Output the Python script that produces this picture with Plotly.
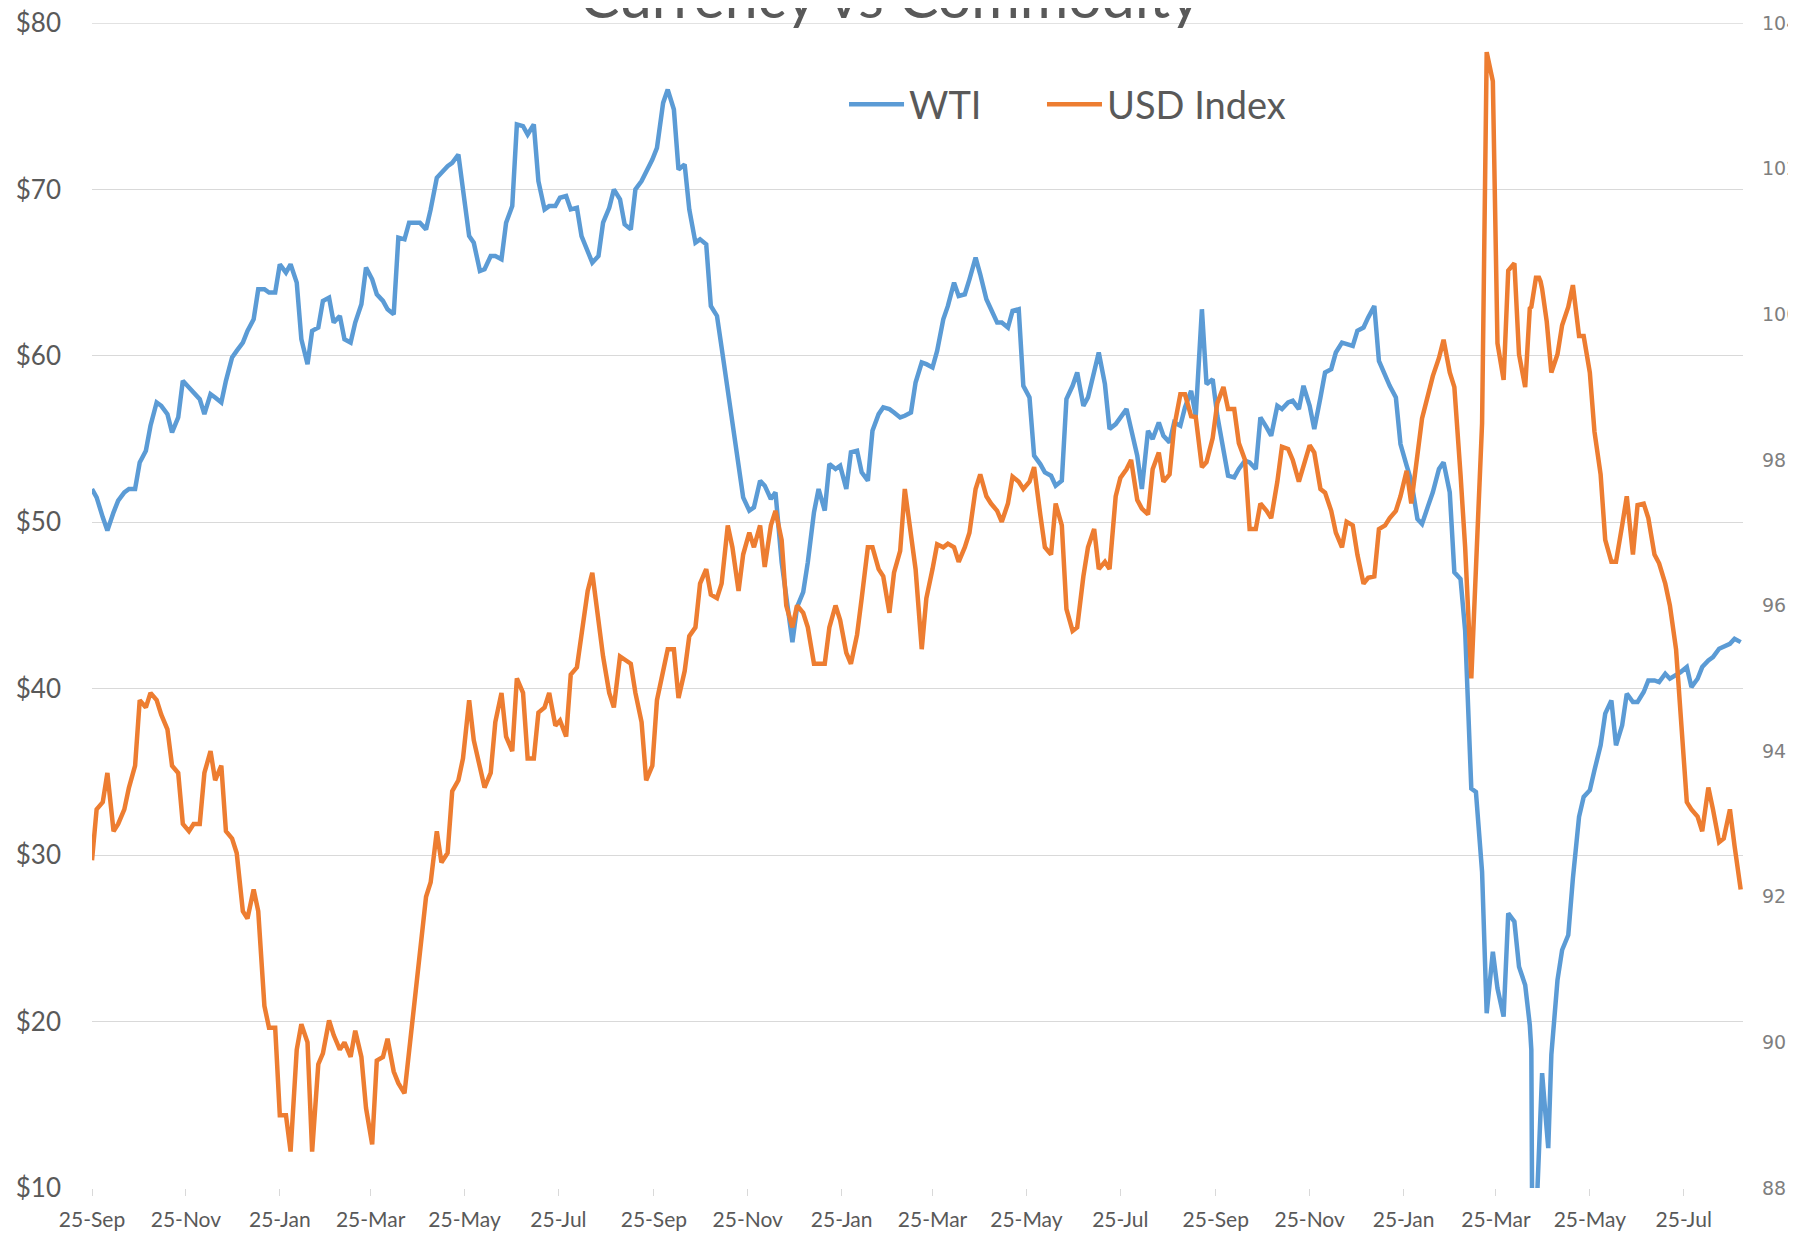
import pandas as pd
import plotly.graph_objects as go

# Monday observations starting 25-Sep-2017 (154 weeks)
monday_start = "2017-09-25"
wti_monday = [
    52.0, 50.3, 50.6, 51.8, 52.0, 54.3, 57.2, 56.5, 56.3, 58.1,
    57.4, 57.7, 57.2, 59.9, 60.8, 62.2, 64.0, 63.8, 65.0, 64.4,
    59.5, 61.7, 63.5, 62.4, 60.8, 63.1, 64.6, 63.3, 62.5, 67.0,
    68.0, 67.6, 70.7, 71.4, 72.1, 67.2, 65.1, 66.0, 65.8, 69.0,
    73.8, 73.9, 68.8, 69.0, 69.6, 68.9, 66.2, 66.0, 68.9, 69.4,
    67.6, 70.5, 71.8, 75.2, 74.8, 71.5, 66.8, 66.7, 62.4, 58.0,
    53.8, 50.7, 52.5, 51.4, 47.6, 42.8, 45.8, 50.6, 50.7, 53.2,
    52.0, 54.3, 52.5, 56.5, 56.8, 56.3, 56.6, 59.6, 59.3, 62.2,
    64.4, 63.7, 65.9, 63.4, 62.0, 61.7, 62.8, 57.5, 53.5, 52.8,
    52.5, 58.2, 57.0, 59.0, 58.3, 55.9, 56.8, 54.0, 55.5, 56.0,
    54.8, 55.8, 57.9, 62.8, 58.6, 54.5, 52.7, 53.7, 53.2, 55.7,
    57.0, 57.2, 56.8, 57.0, 57.5, 59.2, 60.8, 60.6, 61.7, 63.0,
    58.8, 57.5, 53.4, 50.2, 51.0, 53.2, 51.8, 46.6, 34.0, 29.0,
    24.2, 20.3, 26.0, 22.2, -37.6, 13.5, 22.5, 25.2, 32.3, 33.9,
    36.6, 39.3, 37.8, 39.2, 39.8, 40.5, 40.9, 40.8, 41.3, 40.6,
    41.7, 42.4, 42.7, 42.8,
]
usd_monday = [
    92.5, 93.3, 92.9, 93.2, 93.8, 94.6, 94.7, 94.3, 93.7, 92.9,
    93.0, 94.0, 93.8, 92.8, 91.8, 92.1, 90.5, 90.2, 89.0, 89.9,
    90.0, 89.7, 90.3, 89.9, 89.8, 89.8, 88.6, 89.8, 89.6, 89.3,
    90.7, 92.0, 92.9, 92.6, 93.6, 94.7, 93.8, 93.7, 94.8, 94.0,
    94.8, 93.9, 94.6, 94.35, 94.2, 95.15, 96.2, 95.8, 94.8, 95.3,
    95.2, 94.4, 93.8, 95.1, 95.4, 95.1, 95.7, 96.5, 96.1, 97.1,
    96.2, 97.0, 97.1, 97.1, 96.9, 95.7, 95.9, 95.2, 95.2, 96.0,
    95.35, 95.6, 96.8, 96.5, 95.9, 96.75, 96.9, 95.4, 96.5, 96.8,
    96.8, 96.8, 97.6, 97.5, 97.3, 97.4, 97.7, 97.7, 97.25, 96.7,
    97.1, 95.65, 96.4, 97.05, 96.6, 97.5, 97.87, 97.45, 97.25, 98.1,
    97.8, 98.9, 98.6, 97.9, 98.3, 99.0, 98.7, 98.0, 97.05, 97.3,
    97.7, 98.15, 97.7, 98.2, 97.6, 97.3, 96.8, 97.1, 96.3, 96.4,
    97.1, 97.3, 97.85, 98.1, 98.9, 99.4, 99.2, 97.8, 95.0, 98.5,
    103.2, 99.1, 100.7, 99.0, 100.5, 99.9, 99.45, 100.1, 99.7, 99.2,
    97.8, 96.6, 97.1, 96.7, 97.4, 96.7, 96.3, 95.4, 93.3, 93.1,
    93.5, 92.75, 93.2, 92.1,
]

# Thursday observations starting 28-Sep-2017 (153 weeks)
thursday_start = "2017-09-28"
wti_thursday = [
    51.5, 49.5, 51.3, 52.0, 53.6, 55.8, 57.0, 55.4, 58.5, 57.8,
    56.5, 57.5, 58.5, 60.3, 61.5, 64.0, 63.8, 65.5, 65.5, 61.0,
    61.5, 63.3, 62.0, 61.0, 62.0, 65.3, 63.7, 62.8, 67.1, 68.0,
    68.0, 68.8, 71.0, 71.6, 70.0, 66.8, 65.2, 66.0, 68.0, 73.9,
    73.3, 70.5, 69.0, 69.5, 68.8, 67.2, 65.6, 68.0, 70.0, 67.9,
    70.0, 71.0, 72.5, 76.0, 71.2, 68.8, 67.0, 63.0, 60.5, 56.2,
    51.5, 50.9, 52.2, 51.8, 45.5, 44.9, 47.6, 52.0, 53.5, 53.4,
    54.2, 53.0, 55.5, 56.9, 56.6, 56.4, 58.4, 59.5, 60.3, 63.0,
    63.6, 64.6, 64.9, 62.8, 62.0, 62.7, 58.2, 54.0, 53.0, 52.2,
    57.4, 59.0, 57.5, 60.2, 55.6, 56.3, 55.6, 52.0, 55.0, 55.2,
    56.0, 56.9, 56.4, 58.3, 56.4, 52.8, 53.2, 53.6, 56.3, 55.2,
    56.8, 57.3, 58.2, 55.6, 59.0, 60.2, 60.7, 61.5, 62.3, 59.7,
    58.2, 54.7, 52.5, 49.9, 51.8, 53.6, 47.0, 43.5, 33.8, 20.5,
    22.0, 26.5, 23.3, 19.8, 16.0, 18.0, 24.3, 28.6, 33.5, 35.1,
    38.5, 36.6, 39.7, 39.2, 40.5, 40.4, 40.6, 41.0, 40.1, 41.3,
    41.9, 42.5, 43.0,
]
usd_thursday = [
    93.2, 93.7, 93.0, 93.5, 94.7, 94.8, 94.5, 93.8, 93.0, 93.0,
    93.7, 93.6, 92.9, 92.6, 91.7, 91.8, 90.2, 89.0, 88.5, 90.25,
    88.5, 89.85, 90.1, 90.0, 90.16, 89.1, 89.75, 90.05, 89.44, 89.9,
    91.3, 92.2, 92.47, 93.45, 93.9, 94.15, 93.5, 94.4, 94.2, 95.0,
    93.9, 94.53, 94.8, 94.42, 95.05, 95.6, 96.45, 95.3, 94.6, 95.25,
    94.8, 93.6, 94.7, 95.4, 94.73, 95.58, 96.3, 96.15, 96.3, 96.8,
    96.7, 96.8, 96.53, 97.3, 96.0, 96.0, 95.7, 95.2, 95.7, 95.8,
    95.2, 96.1, 96.8, 96.4, 96.45, 97.6, 96.5, 96.1, 96.84, 96.85,
    96.6, 97.0, 97.8, 97.4, 97.15, 97.77, 97.6, 97.9, 96.8, 97.4,
    95.95, 95.7, 96.8, 96.5, 96.5, 97.75, 98.0, 97.33, 97.87, 97.7,
    98.45, 98.9, 98.59, 97.97, 98.78, 98.7, 98.23, 97.05, 97.4, 97.2,
    98.18, 98.0, 97.9, 98.1, 97.55, 97.0, 97.15, 96.7, 96.38, 97.05,
    97.2, 97.5, 97.4, 98.57, 99.15, 99.65, 99.0, 96.8, 96.43, 103.6,
    99.6, 100.6, 99.45, 100.08, 100.45, 99.2, 99.85, 100.4, 99.7, 98.39,
    96.9, 96.6, 97.5, 97.38, 97.2, 96.58, 96.0, 94.45, 93.2, 92.9,
    93.2, 92.8, 92.7,
]

# Extra daily observations around the April 2020 oil crash
extra_dates = ["2020-04-17", "2020-04-21", "2020-04-22", "2020-04-24", "2020-04-28"]
extra_wti = [18.3, 10.0, 13.0, 16.9, 12.4]
extra_usd = [100.1, 100.5, 100.5, 100.35, 99.6]

tick_dates = ["2017-09-25", "2017-11-25", "2018-01-25", "2018-03-25", "2018-05-25",
              "2018-07-25", "2018-09-25", "2018-11-25", "2019-01-25", "2019-03-25",
              "2019-05-25", "2019-07-25", "2019-09-25", "2019-11-25", "2020-01-25",
              "2020-03-25", "2020-05-25", "2020-07-25"]
wti_ticks = [10, 20, 30, 40, 50, 60, 70, 80]
wti_tick_labels = ["$10", "$20", "$30", "$40", "$50", "$60", "$70", "$80"]
usd_ticks = [88, 90, 92, 94, 96, 98, 100, 102, 104]

df = pd.concat([
    pd.DataFrame({"date": pd.date_range(monday_start, periods=len(wti_monday), freq="7D"),
                  "wti": wti_monday, "usd": usd_monday}),
    pd.DataFrame({"date": pd.date_range(thursday_start, periods=len(wti_thursday), freq="7D"),
                  "wti": wti_thursday, "usd": usd_thursday}),
    pd.DataFrame({"date": pd.to_datetime(extra_dates), "wti": extra_wti, "usd": extra_usd}),
]).sort_values("date")

fig = go.Figure()
fig.add_trace(go.Scatter(x=df["date"], y=df["wti"], name="WTI", mode="lines",
                         legend="legend",
                         line=dict(color="#5B9BD5", width=4.5)))
fig.add_trace(go.Scatter(x=df["date"], y=df["usd"], name="USD Index", mode="lines",
                         yaxis="y2", legend="legend2",
                         line=dict(color="#ED7D31", width=4.5)))

grey = "#595959"
grid = "#d9d9d9"
legend_font = dict(family="Lato", size=38, color=grey)
fig.update_layout(
    width=1788, height=1231,
    margin=dict(l=84, r=53, t=15, b=51, autoexpand=False),
    paper_bgcolor="white", plot_bgcolor="white",
    font=dict(family="Lato", color=grey),
    showlegend=True,
    legend=dict(x=0.4555, xanchor="left", y=0.93, yanchor="middle",
                font=legend_font, itemwidth=55,
                bgcolor="rgba(0,0,0,0)"),
    legend2=dict(x=0.5754, xanchor="left", y=0.93, yanchor="middle",
                 font=legend_font, itemwidth=55,
                 bgcolor="rgba(0,0,0,0)"),
    xaxis=dict(type="date", range=["2017-09-25", "2020-09-01 12:00"],
               tickvals=tick_dates, tickformat="%d-%b",
               tickfont=dict(family="Lato", size=21, color=grey),
               ticks="outside", ticklen=7, tickcolor=grid,
               showgrid=False, showline=False, zeroline=False,
               ticklabelstandoff=6, automargin=False),
    yaxis=dict(range=[10, 80], tickvals=wti_ticks, ticktext=wti_tick_labels,
               tickfont=dict(family="Lato", size=26, color=grey),
               gridcolor=grid, gridwidth=1.3, zeroline=False, showline=False,
               ticklabelstandoff=30, automargin=False, ticklabeloverflow="allow"),
    yaxis2=dict(range=[88, 104], tickvals=usd_ticks, overlaying="y", side="right",
                showgrid=False, zeroline=False, showline=False,
                tickfont=dict(family="DejaVu Sans", size=19, color="#7f7f7f"),
                ticklabelstandoff=18, automargin=False, ticklabeloverflow="allow"),
    shapes=[dict(type="line", xref="paper", yref="y", x0=0, x1=1,
                 y0=wti_ticks[-1], y1=wti_ticks[-1], layer="below",
                 line=dict(color=grid, width=1.3))],
    annotations=[dict(text="Currency vs Commodity", xref="paper", yref="paper",
                      x=0.4837, y=0.991, xanchor="center", yanchor="bottom",
                      showarrow=False,
                      font=dict(family="Lato", size=59, color=grey))],
)

fig.write_html("out.html")
